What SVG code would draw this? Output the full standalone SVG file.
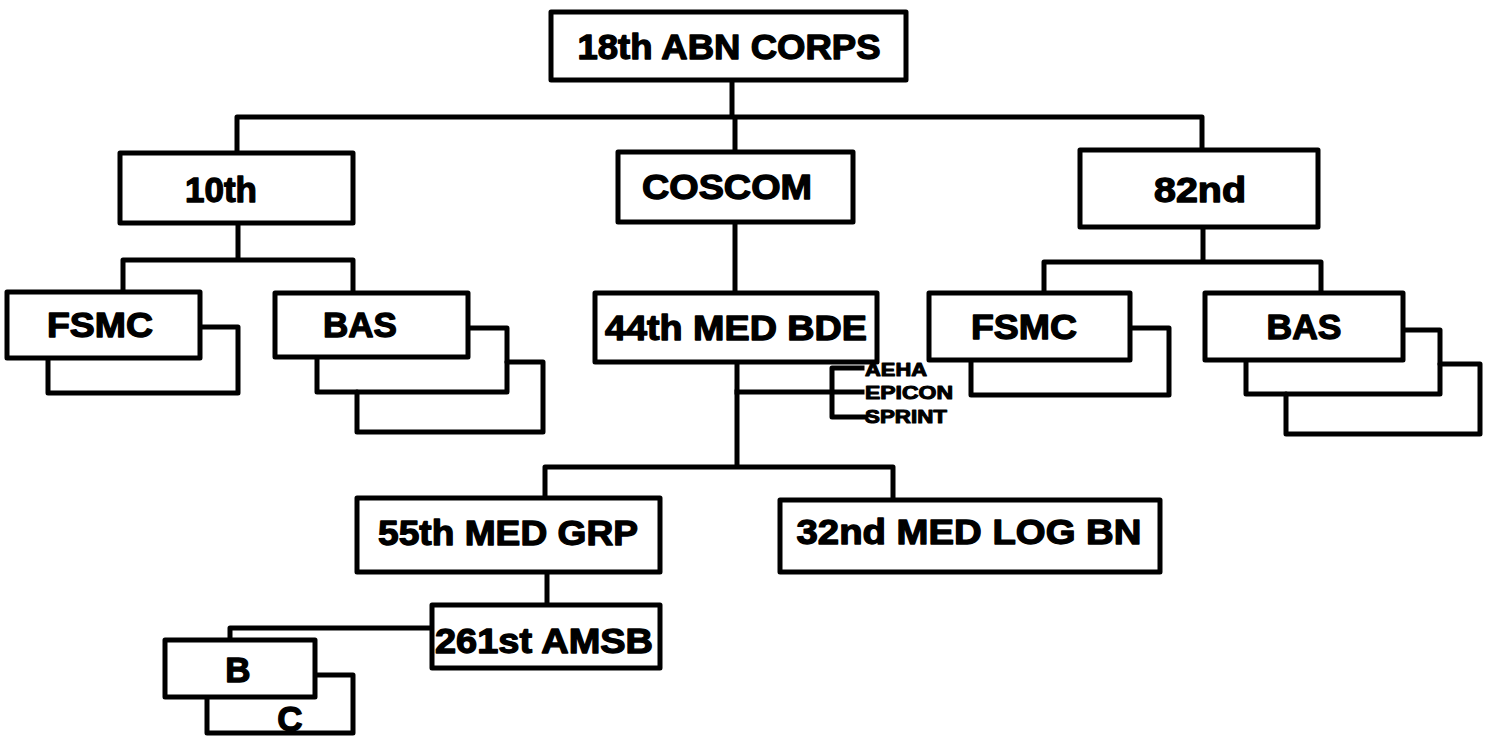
<svg xmlns="http://www.w3.org/2000/svg" width="1491" height="740" viewBox="0 0 1491 740">
<style>
.box{fill:#fff;stroke:#000;stroke-width:5;stroke-linejoin:round}
.back{fill:none;stroke:#000;stroke-width:5;stroke-linejoin:round;stroke-linecap:round}
.ln{fill:none;stroke:#000;stroke-width:5;stroke-linejoin:round;stroke-linecap:square}
.t{font-family:"Liberation Sans",Arial,sans-serif;font-weight:bold;font-size:35px;fill:#000;stroke:#000;stroke-width:1.3;stroke-linejoin:round;text-anchor:middle}
.s{font-family:"Liberation Sans",Arial,sans-serif;font-weight:bold;font-size:18px;fill:#000;stroke:#000;stroke-width:1;stroke-linejoin:round}
</style>
<rect width="1491" height="740" fill="#fff"/>
<g id="connectors">
<path class="ln" d="M732,80 V117 M237,153 V117 H1202 V150 M735,117 V152"/>
<path class="ln" d="M238,223 V260 M123,292 V260 H353 V293"/>
<path class="ln" d="M1203,227 V262 M1044,293 V262 H1321 V293"/>
<path class="ln" d="M735,222 V293"/>
<path class="ln" d="M737,362 V467 M545,498 V467 H893 V500"/>
<path class="ln" d="M737,392 H862 M862,368 H832 V417 H866"/>
<path class="ln" d="M547,572 V605"/>
<path class="ln" d="M432,628 H230 V640"/>
</g>
<g id="n18abn"><rect class="box" x="551" y="12" width="355" height="68"/><text class="t" x="729" y="59" textLength="303" lengthAdjust="spacingAndGlyphs">18th ABN CORPS</text></g>
<g id="n10th"><rect class="box" x="120" y="153" width="233" height="70"/><text class="t" x="221" y="202">10th</text></g>
<g id="ncoscom"><rect class="box" x="618" y="152" width="235" height="70"/><text class="t" x="727" y="199" textLength="170" lengthAdjust="spacingAndGlyphs">COSCOM</text></g>
<g id="n82nd"><rect class="box" x="1080" y="150" width="238" height="77"/><text class="t" x="1200" y="202" textLength="92" lengthAdjust="spacingAndGlyphs">82nd</text></g>
<g id="nfsmcL">
<path class="back" d="M200,327 H238 V393 H48 V358"/>
<rect class="box" x="7" y="292" width="193" height="66"/><text class="t" x="100" y="337" textLength="106" lengthAdjust="spacingAndGlyphs">FSMC</text></g>
<g id="nbasL">
<path class="back" d="M507,362 H543 V432 H357 V392"/>
<path class="back" d="M468,328 H507 V392 H317 V357"/>
<rect class="box" x="275" y="293" width="193" height="64"/><text class="t" x="360" y="337" textLength="74" lengthAdjust="spacingAndGlyphs">BAS</text></g>
<g id="nfsmcR">
<path class="back" d="M1130,328 H1169 V395 H971 V360"/>
<rect class="box" x="929" y="293" width="201" height="67"/><text class="t" x="1024" y="339" textLength="106" lengthAdjust="spacingAndGlyphs">FSMC</text></g>
<g id="nbasR">
<path class="back" d="M1440,364 H1480 V434 H1286 V394"/>
<path class="back" d="M1403,330 H1440 V394 H1246 V360"/>
<rect class="box" x="1205" y="293" width="198" height="67"/><text class="t" x="1304" y="339" textLength="75" lengthAdjust="spacingAndGlyphs">BAS</text></g>
<g id="n44med"><rect class="box" x="595" y="293" width="282" height="69"/><text class="t" x="736" y="340" textLength="262" lengthAdjust="spacingAndGlyphs">44th MED BDE</text></g>
<g id="nlabels">
<text class="s" x="865" y="376" textLength="62" lengthAdjust="spacingAndGlyphs">AEHA</text>
<text class="s" x="865" y="399" textLength="88" lengthAdjust="spacingAndGlyphs">EPICON</text>
<text class="s" x="865" y="423" textLength="82" lengthAdjust="spacingAndGlyphs">SPRINT</text>
</g>
<g id="n55med"><rect class="box" x="357" y="498" width="303" height="74"/><text class="t" x="508" y="545" textLength="260" lengthAdjust="spacingAndGlyphs">55th MED GRP</text></g>
<g id="n32med"><rect class="box" x="780" y="500" width="380" height="72"/><text class="t" x="969" y="544" textLength="345" lengthAdjust="spacingAndGlyphs">32nd MED LOG BN</text></g>
<g id="n261st"><rect class="box" x="432" y="605" width="228" height="63"/><text class="t" x="544" y="653" textLength="218" lengthAdjust="spacingAndGlyphs">261st AMSB</text></g>
<g id="nB"><path class="back" d="M315,675 H353 V733 H207 V697"/><rect class="box" x="165" y="640" width="150" height="57"/><text class="t" x="238" y="682">B</text></g>
<g id="nC"><text class="t" x="290" y="731">C</text></g>
</svg>
